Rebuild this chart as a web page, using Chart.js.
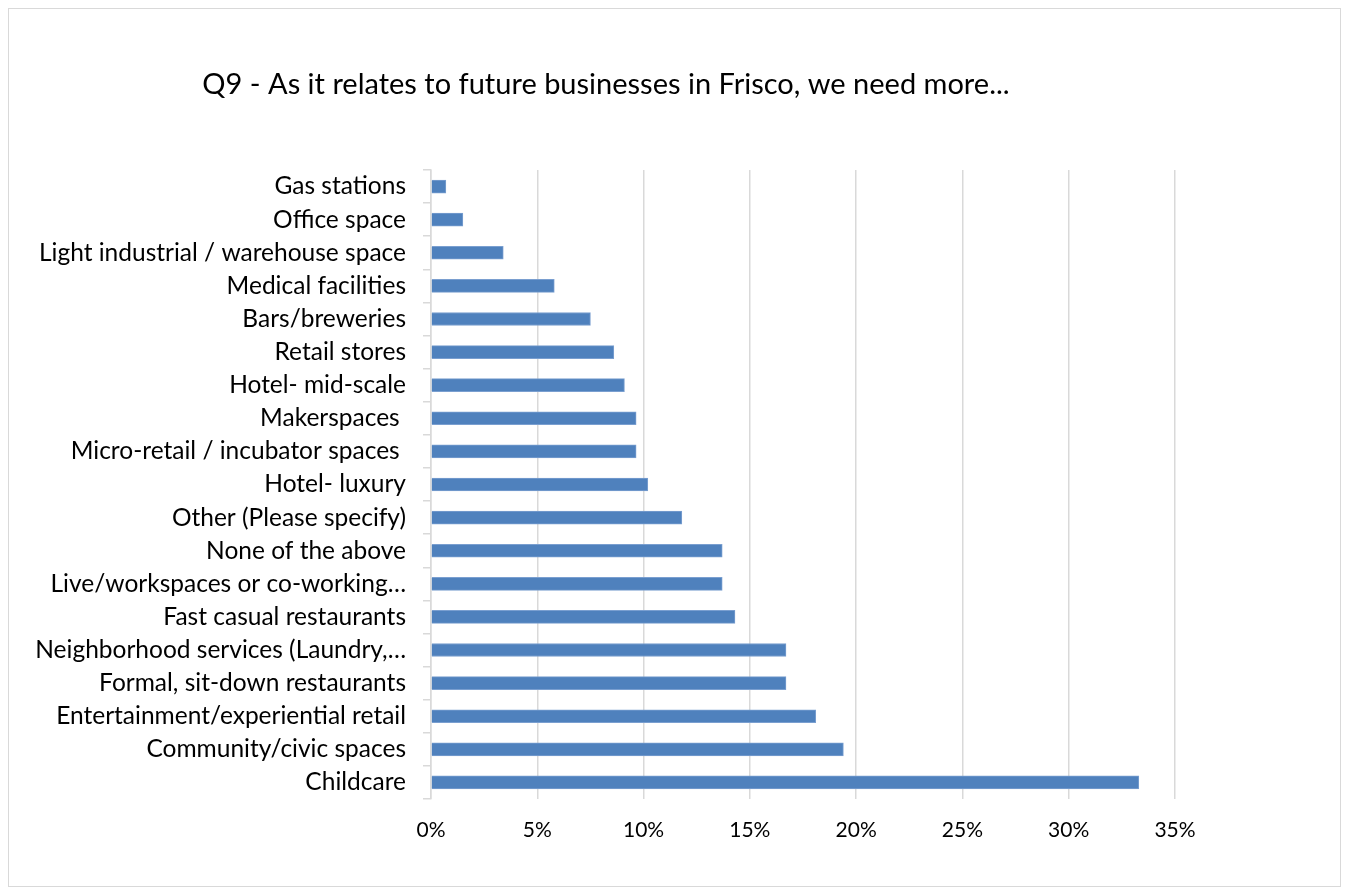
<!DOCTYPE html>
<html>
<head>
<meta charset="utf-8">
<script src="https://cdn.jsdelivr.net/npm/chart.js@4"></script>
<style>
  html, body { margin: 0; padding: 0; background: #fff; }
  #frame {
    position: absolute; left: 8px; top: 8px;
    width: 1331px; height: 877px;
    border: 1px solid #d9d9d9;
  }
  #wrap { position: absolute; left: 0; top: 0; width: 1346px; height: 892px; }
</style>
</head>
<body>
<div id="frame"></div>
<div id="wrap"><canvas id="chart"></canvas></div>
<script>
// Data
const title = 'Q9 - As it relates to future businesses in Frisco, we need more...';

const categories = [
  'Gas stations',
  'Office space',
  'Light industrial / warehouse space',
  'Medical facilities',
  'Bars/breweries',
  'Retail stores',
  'Hotel- mid-scale',
  'Makerspaces ',
  'Micro-retail / incubator spaces ',
  'Hotel- luxury',
  'Other (Please specify)',
  'None of the above',
  'Live/workspaces or co-working…',
  'Fast casual restaurants',
  'Neighborhood services (Laundry,…',
  'Formal, sit-down restaurants',
  'Entertainment/experiential retail',
  'Community/civic spaces',
  'Childcare'
];

const shares = [0.7, 1.5, 3.4, 5.8, 7.5, 8.6, 9.1, 9.65, 9.65, 10.2, 11.8, 13.7, 13.7, 14.3, 16.7, 16.7, 18.1, 19.4, 33.3];

const xTicks = [0, 5, 10, 15, 20, 25, 30, 35];

const FONT = 'Lato, "Open Sans", sans-serif';

// title drawn at a fixed spot like the original
const titlePlugin = {
  id: 'fixedTitle',
  afterDraw(chart) {
    const ctx = chart.ctx;
    ctx.save();
    ctx.font = '29px ' + FONT;
    ctx.fillStyle = '#000';
    ctx.textAlign = 'center';
    ctx.textBaseline = 'middle';
    ctx.fillText(title, 606, 85);
    ctx.restore();
  }
};

const ctx = document.getElementById('chart').getContext('2d');

const chart = new Chart(ctx, {
  type: 'bar',
  data: {
    labels: categories,
    datasets: [{
      data: shares,
      backgroundColor: '#4f81bd',
      borderColor: '#7a9fd0',
      borderWidth: 1,
      barThickness: 13
    }]
  },
  options: {
    indexAxis: 'y',
    responsive: true,
    maintainAspectRatio: false,
    animation: false,
    layout: { padding: { top: 170, right: 171, bottom: 33, left: 0 } },
    plugins: {
      legend: { display: false },
      tooltip: { enabled: false }
    },
    scales: {
      x: {
        min: 0,
        max: 35,
        afterBuildTicks: (scale) => { scale.ticks = xTicks.map(v => ({ value: v })); },
        afterFit: (scale) => { scale.height = 60; },
        grid: { color: '#d9d9d9', lineWidth: 1.5, drawTicks: false },
        border: { display: false },
        ticks: {
          padding: 19,
          color: '#000',
          font: { family: FONT, size: 21 },
          callback: (v) => v + '%'
        }
      },
      y: {
        afterFit: (scale) => { scale.width = 431; },
        grid: {
          offset: true,
          drawOnChartArea: false,
          tickLength: 8,
          color: '#d9d9d9',
          lineWidth: 1.5
        },
        border: { display: true, color: '#d9d9d9', width: 1.5 },
        ticks: {
          padding: 17,
          autoSkip: false,
          color: '#000',
          font: { family: FONT, size: 24.5 }
        }
      }
    }
  },
  plugins: [titlePlugin]
});
</script>
</body>
</html>
